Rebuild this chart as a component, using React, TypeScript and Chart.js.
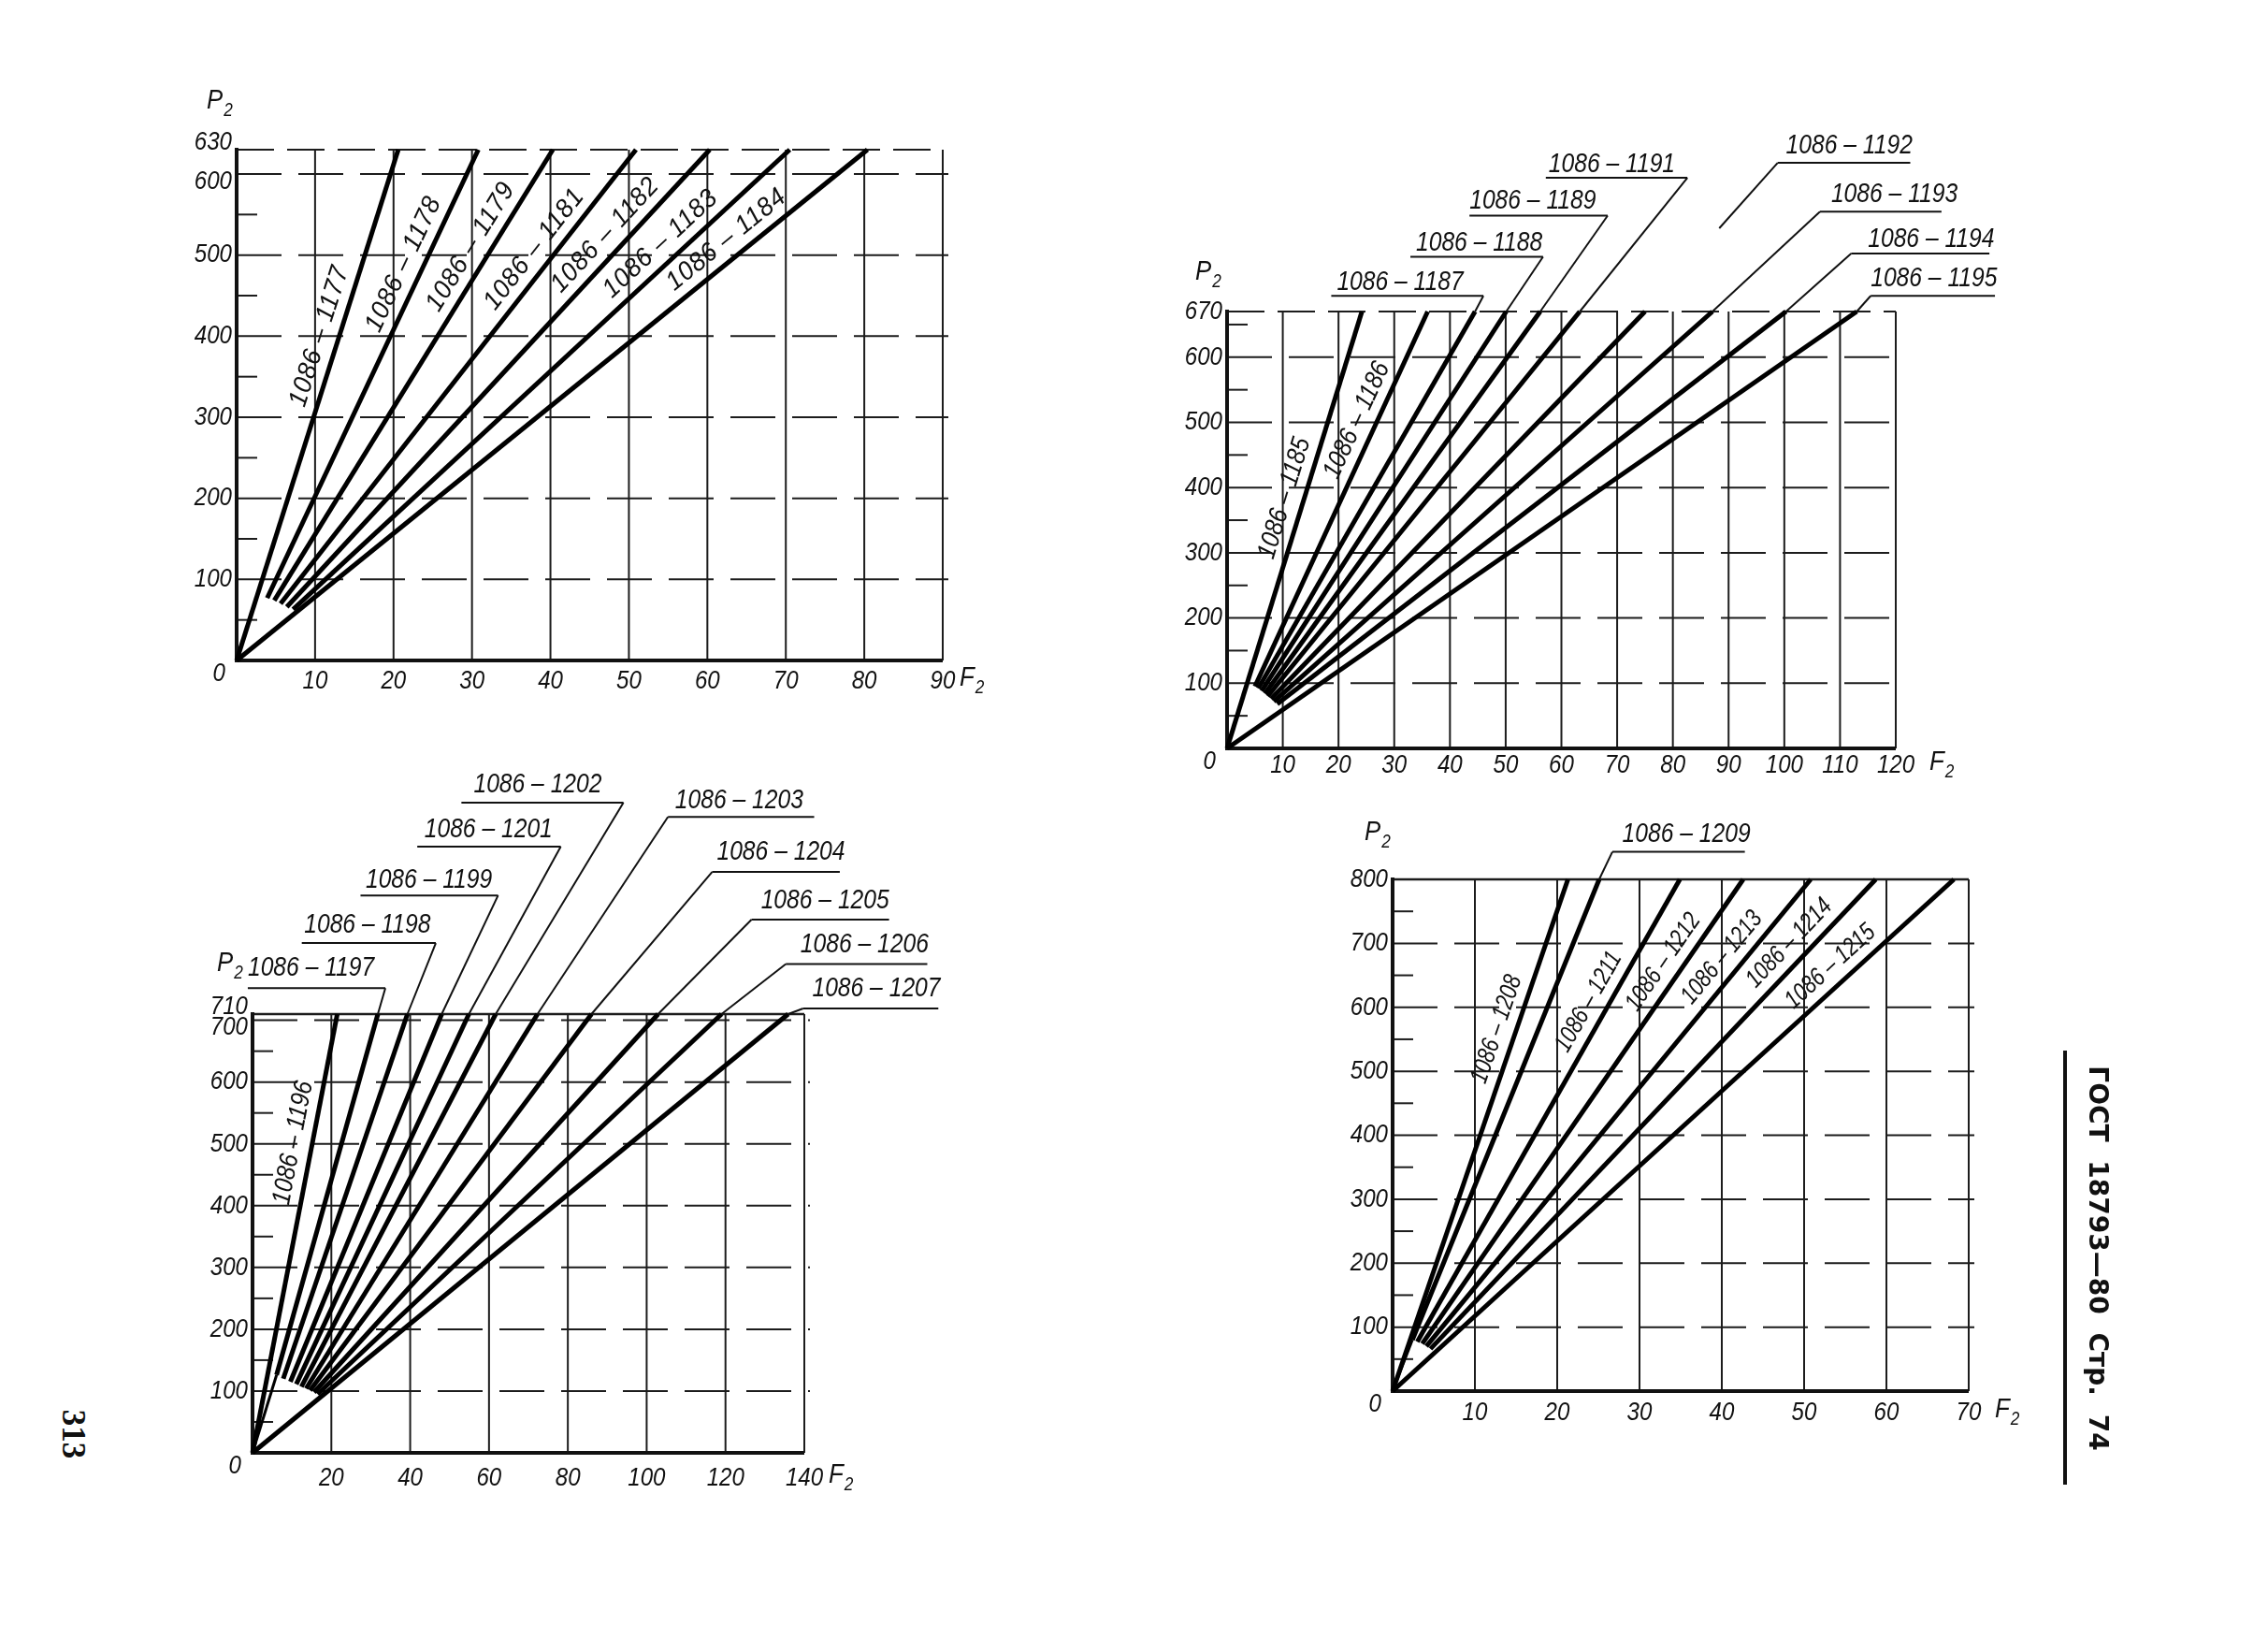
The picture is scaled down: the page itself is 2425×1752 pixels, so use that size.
import React, { useEffect, useRef } from "react";
import { Chart, registerables } from "chart.js";

Chart.register(...registerables);

const FONT = '"Liberation Sans", "DejaVu Sans", sans-serif';

// ---------------- Chart 1 (top-left) ----------------
const c1Names = ["1086-1177", "1086-1178", "1086-1179", "1086-1181", "1086-1182", "1086-1183", "1086-1184"];
const c1StartF = [0, 3.9, 4.8, 5.6, 6.4, 7.2, 0];
const c1StartP = [0, 77, 74, 70, 66, 63, 0];
const c1EndF = [20.6, 30.8, 40.3, 50.9, 60.3, 70.5, 80.4];
const c1EndP = [630, 630, 630, 630, 630, 630, 630];
const c1LabelP = [393, 479, 498, 493, 509, 497, 501];
const c1XTicks = [10, 20, 30, 40, 50, 60, 70, 80, 90];
const c1YTicks = [0, 100, 200, 300, 400, 500, 600, 630];
const c1XGrid = [10, 20, 30, 40, 50, 60, 70, 80];
const c1YGrid = [100, 200, 300, 400, 500, 600];
const c1YMinor = [50, 150, 250, 350, 450, 550];

// ---------------- Chart 2 (top-right) ----------------
const c2Names = ["1086-1185", "1086-1186", "1086-1187", "1086-1188", "1086-1189", "1086-1191", "1086-1192", "1086-1193", "1086-1194", "1086-1195"];
const c2StartF = [0, 5.0, 5.6, 6.2, 6.8, 7.3, 7.9, 8.4, 9.0, 0];
const c2StartP = [0, 95, 92, 88, 84, 80, 76, 72, 68, 0];
const c2EndF = [24.2, 36, 44.5, 50.1, 56.2, 63.3, 75, 87.1, 100.3, 113];
const c2EndP = [670, 670, 670, 670, 670, 670, 670, 670, 670, 670];
const c2LabelP = [375, 491, null, null, null, null, null, null, null, null];
const c2TextF = [null, null, 19.7, 33.9, 43.5, 57.7, 100.3, 108.4, 115, 115.5];
const c2TextP = [null, null, 714, 775, 840, 895, 924, 849, 781, 720];
const c2LineP = [null, null, 694, 754, 817, 875, 898, 823, 759, 694];
const c2LineF1 = [null, null, 18.7, 32.9, 43.5, 57.2, 98.8, 106.4, 112, 115.5];
const c2LineF2 = [null, null, 46, 56.7, 68.3, 82.6, 122.6, 128.2, 136.8, 137.8];
const c2FromRight = [null, null, true, true, true, true, false, false, false, false];
const c2LeaderFrac = [null, null, 1, 1, 1, 1, 0.44, 1, 1, 1];
const c2XTicks = [10, 20, 30, 40, 50, 60, 70, 80, 90, 100, 110, 120];
const c2YTicks = [0, 100, 200, 300, 400, 500, 600, 670];
const c2XGrid = [10, 20, 30, 40, 50, 60, 70, 80, 90, 100, 110];
const c2YGrid = [100, 200, 300, 400, 500, 600];
const c2YMinor = [50, 150, 250, 350, 450, 550, 650];

// ---------------- Chart 3 (bottom-left) ----------------
const c3Names = ["1086-1196", "1086-1197", "1086-1198", "1086-1199", "1086-1201", "1086-1202", "1086-1203", "1086-1204", "1086-1205", "1086-1206", "1086-1207"];
const c3StartF = [0, 6.1, 7.8, 9.6, 11.1, 12.4, 13.6, 14.6, 15.6, 16.5, 0];
const c3StartP = [0, 126, 120, 115, 111, 107, 104, 101, 98, 95, 0];
const c3EndF = [21.5, 31.8, 39.3, 48, 54.9, 61.7, 72.3, 86, 102.9, 119, 135.9];
const c3EndP = [710, 710, 710, 710, 710, 710, 710, 710, 710, 710, 710];
const c3LabelP = [496, null, null, null, null, null, null, null, null, null, null];
const c3TextF = [null, -1.2, 13.1, 28.7, 43.6, 56.1, 107.2, 117.8, 129, 139, 142];
const c3TextP = [null, 784, 854, 926, 1008, 1081, 1056, 972, 893, 822, 751];
const c3LineP = [null, 752, 825, 902, 981, 1052, 1029, 940, 863, 791, 719];
const c3LineF1 = [null, -1.2, 12.5, 27.4, 41.8, 53, 105.4, 116.6, 126.6, 135.3, 139.7];
const c3LineF2 = [null, 33.7, 46.5, 62.3, 78.2, 94.1, 142.5, 149, 161.5, 171.2, 174];
const c3FromRight = [null, true, true, true, true, true, false, false, false, false, false];
const c3LeaderFrac = [null, 1, 1, 1, 1, 1, 1, 1, 1, 1, 1];
const c3XTicks = [20, 40, 60, 80, 100, 120, 140];
const c3YTicks = [0, 100, 200, 300, 400, 500, 600, 700, 710];
const c3XGrid = [20, 40, 60, 80, 100, 120];
const c3YGrid = [100, 200, 300, 400, 500, 600, 700];
const c3YMinor = [50, 150, 250, 350, 450, 550, 650];

// ---------------- Chart 4 (bottom-right) ----------------
const c4Names = ["1086-1208", "1086-1209", "1086-1211", "1086-1212", "1086-1213", "1086-1214", "1086-1215"];
const c4StartF = [0, 2.4, 3.0, 3.6, 4.1, 4.6, 0];
const c4StartP = [0, 80, 77, 74, 70, 66, 0];
const c4EndF = [21.3, 25.1, 34.9, 42.6, 50.8, 58.7, 68.2];
const c4EndP = [800, 800, 800, 800, 800, 800, 800];
const c4LabelP = [556, null, 594, 654, 659, 680, 642];
const c4TextF = [null, 27.9, null, null, null, null, null];
const c4TextP = [null, 871, null, null, null, null, null];
const c4LineP = [null, 843, null, null, null, null, null];
const c4LineF1 = [null, 26.7, null, null, null, null, null];
const c4LineF2 = [null, 42.8, null, null, null, null, null];
const c4FromRight = [null, false, null, null, null, null, null];
const c4LeaderFrac = [null, 1, null, null, null, null, null];
const c4XTicks = [10, 20, 30, 40, 50, 60, 70];
const c4YTicks = [0, 100, 200, 300, 400, 500, 600, 700, 800];
const c4XGrid = [10, 20, 30, 40, 50, 60];
const c4YGrid = [100, 200, 300, 400, 500, 600, 700];
const c4YMinor = [50, 150, 250, 350, 450, 550, 650, 750];

type Box = { left: number; top: number; width: number; height: number };
type Area = { L: number; T: number; R: number; B: number };
type Spec = {
  names: string[];
  startF: number[];
  startP: number[];
  endF: number[];
  endP: number[];
  labelP: (number | null)[];
  textF?: (number | null)[];
  textP?: (number | null)[];
  lineP?: (number | null)[];
  lineF1?: (number | null)[];
  lineF2?: (number | null)[];
  fromRight?: (boolean | null)[];
  leaderFrac?: (number | null)[];
  xTicks: number[];
  yTicks: number[];
  xGrid: number[];
  yGrid: number[];
  yMinor: number[];
  xMax: number;
  yMax: number;
  envelope: boolean;
  topDash: boolean;
  box: Box;
  area: Area;
  pDx: number;
  pDy: number;
  fDx: number;
  xLabDy: number;
  rotSize: number;
  rotSx: number;
  rotSpacing: number;
  rotOff: number;
};

const INK = "#111";

function txt(
  ctx: CanvasRenderingContext2D,
  s: string,
  x: number,
  y: number,
  size: number,
  o: { align?: CanvasTextAlign; baseline?: CanvasTextBaseline; rot?: number; sx?: number; italic?: boolean; spacing?: number } = {}
) {
  ctx.save();
  ctx.translate(x, y);
  if (o.rot) ctx.rotate(o.rot);
  ctx.scale(o.sx ?? 0.86, 1);
  ctx.font = `${o.italic === false ? "" : "italic "}${size}px ${FONT}`;
  (ctx as any).letterSpacing = `${o.spacing ?? 0}px`;
  ctx.textAlign = o.align ?? "left";
  ctx.textBaseline = o.baseline ?? "middle";
  ctx.fillStyle = INK;
  ctx.fillText(s, 0, 0);
  ctx.restore();
}

function sub(ctx: CanvasRenderingContext2D, main: string, x: number, y: number) {
  ctx.save();
  ctx.font = `italic 30px ${FONT}`;
  const w = ctx.measureText(main).width * 0.86;
  ctx.restore();
  txt(ctx, main, x, y, 30, { align: "left" });
  txt(ctx, "2", x + w + 1, y + 10, 20, { align: "left" });
}

function seg(ctx: CanvasRenderingContext2D, x1: number, y1: number, x2: number, y2: number) {
  ctx.beginPath();
  ctx.moveTo(x1, y1);
  ctx.lineTo(x2, y2);
  ctx.stroke();
}

const disp = (n: string) => n.replace("-", " \u2013 ");

function makePlugin(spec: Spec) {
  return {
    id: "nomo",
    beforeDatasetsDraw(chart: any) {
      const ctx: CanvasRenderingContext2D = chart.ctx;
      const X = (v: number) => chart.scales.x.getPixelForValue(v);
      const Y = (v: number) => chart.scales.y.getPixelForValue(v);
      const { left, right, top, bottom } = chart.chartArea;
      ctx.save();
      ctx.strokeStyle = "#1c1c1c";
      ctx.lineWidth = 2;
      ctx.setLineDash([]);
      spec.xGrid.forEach((v) => seg(ctx, X(v), bottom, X(v), top));
      seg(ctx, right, bottom, right, top);
      ctx.setLineDash([48, 18]);
      spec.yGrid.forEach((v) => seg(ctx, left, Y(v), right + 6, Y(v)));
      ctx.setLineDash(spec.topDash ? [40, 14] : []);
      ctx.lineWidth = spec.topDash ? 2 : 2.5;
      seg(ctx, left, top, right, top);
      ctx.setLineDash([]);
      ctx.lineWidth = 2;
      spec.yMinor.forEach((v) => seg(ctx, left, Y(v), left + 22, Y(v)));
      ctx.strokeStyle = INK;
      ctx.lineWidth = 4;
      seg(ctx, left, bottom + 2, left, top - 2);
      seg(ctx, left - 2, bottom, right, bottom);
      ctx.restore();
    },
    afterDatasetsDraw(chart: any) {
      const ctx: CanvasRenderingContext2D = chart.ctx;
      const X = (v: number) => chart.scales.x.getPixelForValue(v);
      const Y = (v: number) => chart.scales.y.getPixelForValue(v);
      const { left, top, bottom } = chart.chartArea;

      // y tick labels
      const yt = spec.yTicks;
      yt.forEach((v, i) => {
        let y = Y(v);
        if (v === 0) {
          txt(ctx, "0", left - 12, bottom + 14, 28, { align: "right" });
          return;
        }
        if (i === yt.length - 1 && i > 0 && Math.abs(Y(yt[i - 1]) - y) < 32) y -= 8;
        if (i === yt.length - 2 && Math.abs(Y(yt[i + 1]) - y) < 32) y += 8;
        txt(ctx, String(v), left - 5, y, 28, { align: "right" });
      });
      // x tick labels
      spec.xTicks.forEach((v) => txt(ctx, String(v), X(v), bottom + spec.xLabDy, 28, { align: "center" }));
      const lastX = X(spec.xTicks[spec.xTicks.length - 1]);
      sub(ctx, "F", lastX + spec.fDx, bottom + spec.xLabDy - 3);
      sub(ctx, "P", left + spec.pDx, top + spec.pDy);

      // line labels
      ctx.save();
      ctx.strokeStyle = INK;
      ctx.lineWidth = 2;
      spec.names.forEach((name, i) => {
        const x1 = X(spec.startF[i]);
        const y1 = Y(spec.startP[i]);
        const x2 = X(spec.endF[i]);
        const y2 = Y(spec.endP[i]);
        const lp = spec.labelP[i];
        if (lp !== null && lp !== undefined) {
          const ang = Math.atan2(y2 - y1, x2 - x1);
          const len = Math.hypot(x2 - x1, y2 - y1);
          const py = Y(lp);
          const t = (py - y1) / (y2 - y1);
          const px = x1 + t * (x2 - x1);
          const nx = (y2 - y1) / len;
          const ny = -(x2 - x1) / len;
          const off = spec.rotOff;
          txt(ctx, disp(name), px + nx * off, py + ny * off, spec.rotSize, {
            align: "center",
            rot: ang,
            sx: spec.rotSx,
            spacing: spec.rotSpacing,
          });
          return;
        }
        const tf = spec.textF?.[i];
        if (tf === null || tf === undefined) return;
        txt(ctx, disp(name), X(tf), Y(spec.textP![i] as number), 29, { align: "left", sx: 0.85 });
        const uy = Y(spec.lineP![i] as number);
        const ux1 = X(spec.lineF1![i] as number);
        const ux2 = X(spec.lineF2![i] as number);
        seg(ctx, ux1, uy, ux2, uy);
        const sx = spec.fromRight![i] ? ux2 : ux1;
        const f = spec.leaderFrac![i] as number;
        seg(ctx, sx, uy, sx + (x2 - sx) * f, uy + (y2 - uy) * f);
      });
      ctx.restore();
    },
  };
}

function buildConfig(spec: Spec): any {
  const { L, T, R, B } = spec.area;
  const b = spec.box;
  const datasets: any[] = spec.names.map((n, i) => ({
    label: n,
    data: [
      { x: spec.startF[i], y: spec.startP[i] },
      { x: spec.endF[i], y: spec.endP[i] },
    ],
    showLine: true,
    borderColor: "#000",
    backgroundColor: "#000",
    borderWidth: 5,
    borderCapStyle: "butt",
    pointRadius: 0,
    clip: false,
  }));
  if (spec.envelope) {
    datasets.push({
      label: "envelope",
      data: [
        { x: 0, y: 0 },
        { x: spec.startF[1], y: spec.startP[1] },
      ],
      showLine: true,
      borderColor: "#000",
      borderWidth: 3,
      pointRadius: 0,
      clip: false,
    });
  }
  return {
    type: "scatter",
    data: { datasets },
    plugins: [makePlugin(spec)],
    options: {
      animation: false,
      responsive: false,
      devicePixelRatio: 1,
      events: [],
      layout: {
        padding: { left: L - b.left, top: T - b.top, right: b.left + b.width - R, bottom: b.top + b.height - B },
      },
      plugins: { legend: { display: false }, tooltip: { enabled: false }, title: { display: false } },
      scales: {
        x: { type: "linear", min: 0, max: spec.xMax, display: false },
        y: { type: "linear", min: 0, max: spec.yMax, display: false },
      },
    },
  };
}

function Nomo({ spec }: { spec: Spec }) {
  const ref = useRef<HTMLCanvasElement>(null);
  useEffect(() => {
    const c = new Chart(ref.current as HTMLCanvasElement, buildConfig(spec));
    return () => c.destroy();
  }, []);
  const b = spec.box;
  return (
    <canvas
      ref={ref}
      width={b.width}
      height={b.height}
      style={{ position: "absolute", left: b.left, top: b.top, width: b.width, height: b.height }}
    />
  );
}

const spec1: Spec = {
  names: c1Names, startF: c1StartF, startP: c1StartP, endF: c1EndF, endP: c1EndP, labelP: c1LabelP,
  xTicks: c1XTicks, yTicks: c1YTicks, xGrid: c1XGrid, yGrid: c1YGrid, yMinor: c1YMinor,
  xMax: 90, yMax: 630, envelope: false, topDash: true,
  box: { left: 150, top: 50, width: 950, height: 760 },
  area: { L: 253, T: 160, R: 1008, B: 706 },
  pDx: -32, pDy: -52, fDx: 18, xLabDy: 22,
  rotSize: 28, rotSx: 0.95, rotSpacing: 1, rotOff: 20,
};
const spec2: Spec = {
  names: c2Names, startF: c2StartF, startP: c2StartP, endF: c2EndF, endP: c2EndP, labelP: c2LabelP,
  textF: c2TextF, textP: c2TextP, lineP: c2LineP, lineF1: c2LineF1, lineF2: c2LineF2, fromRight: c2FromRight, leaderFrac: c2LeaderFrac,
  xTicks: c2XTicks, yTicks: c2YTicks, xGrid: c2XGrid, yGrid: c2YGrid, yMinor: c2YMinor,
  xMax: 120, yMax: 670, envelope: false, topDash: true,
  box: { left: 1220, top: 110, width: 1040, height: 770 },
  area: { L: 1312, T: 333, R: 2027, B: 800 },
  pDx: -34, pDy: -42, fDx: 36, xLabDy: 18,
  rotSize: 28, rotSx: 0.87, rotSpacing: 0, rotOff: 20,
};
const spec3: Spec = {
  names: c3Names, startF: c3StartF, startP: c3StartP, endF: c3EndF, endP: c3EndP, labelP: c3LabelP,
  textF: c3TextF, textP: c3TextP, lineP: c3LineP, lineF1: c3LineF1, lineF2: c3LineF2, fromRight: c3FromRight, leaderFrac: c3LeaderFrac,
  xTicks: c3XTicks, yTicks: c3YTicks, xGrid: c3XGrid, yGrid: c3YGrid, yMinor: c3YMinor,
  xMax: 140, yMax: 710, envelope: true, topDash: false,
  box: { left: 150, top: 800, width: 960, height: 850 },
  area: { L: 270, T: 1084, R: 860, B: 1553 },
  pDx: -38, pDy: -54, fDx: 26, xLabDy: 27,
  rotSize: 28, rotSx: 0.87, rotSpacing: 0, rotOff: 20,
};
const spec4: Spec = {
  names: c4Names, startF: c4StartF, startP: c4StartP, endF: c4EndF, endP: c4EndP, labelP: c4LabelP,
  textF: c4TextF, textP: c4TextP, lineP: c4LineP, lineF1: c4LineF1, lineF2: c4LineF2, fromRight: c4FromRight, leaderFrac: c4LeaderFrac,
  xTicks: c4XTicks, yTicks: c4YTicks, xGrid: c4XGrid, yGrid: c4YGrid, yMinor: c4YMinor,
  xMax: 70, yMax: 800, envelope: true, topDash: false,
  box: { left: 1380, top: 830, width: 880, height: 750 },
  area: { L: 1489, T: 940, R: 2105, B: 1487 },
  pDx: -30, pDy: -50, fDx: 28, xLabDy: 23,
  rotSize: 27, rotSx: 0.8, rotSpacing: 0, rotOff: 20,
};

export default function App() {
  return (
    <div
      style={{
        position: "absolute",
        left: 0,
        top: 0,
        width: 2425,
        height: 1752,
        background: "#fff",
        overflow: "hidden",
      }}
    >
      <Nomo spec={spec1} />
      <Nomo spec={spec2} />
      <Nomo spec={spec3} />
      <Nomo spec={spec4} />
      <div
        style={{
          position: "absolute",
          left: 78,
          top: 1533,
          transform: "translate(-50%, -50%) rotate(90deg)",
          fontFamily: '"Liberation Serif", serif',
          fontWeight: "bold",
          fontSize: 35,
          color: "#111",
          whiteSpace: "nowrap",
          lineHeight: 1,
        }}
      >
        313
      </div>
      <div
        style={{
          position: "absolute",
          left: 2243,
          top: 1345,
          transform: "translate(-50%, -50%) rotate(90deg)",
          fontFamily: '"DejaVu Sans", sans-serif',
          fontWeight: "bold",
          fontSize: 28,
          color: "#111",
          whiteSpace: "nowrap",
          lineHeight: 1,
          wordSpacing: 10,
        }}
      >
        ГОСТ 18793—80 Стр. 74
      </div>
      <div style={{ position: "absolute", left: 2206, top: 1123, width: 4, height: 464, background: "#111" }} />
    </div>
  );
}
